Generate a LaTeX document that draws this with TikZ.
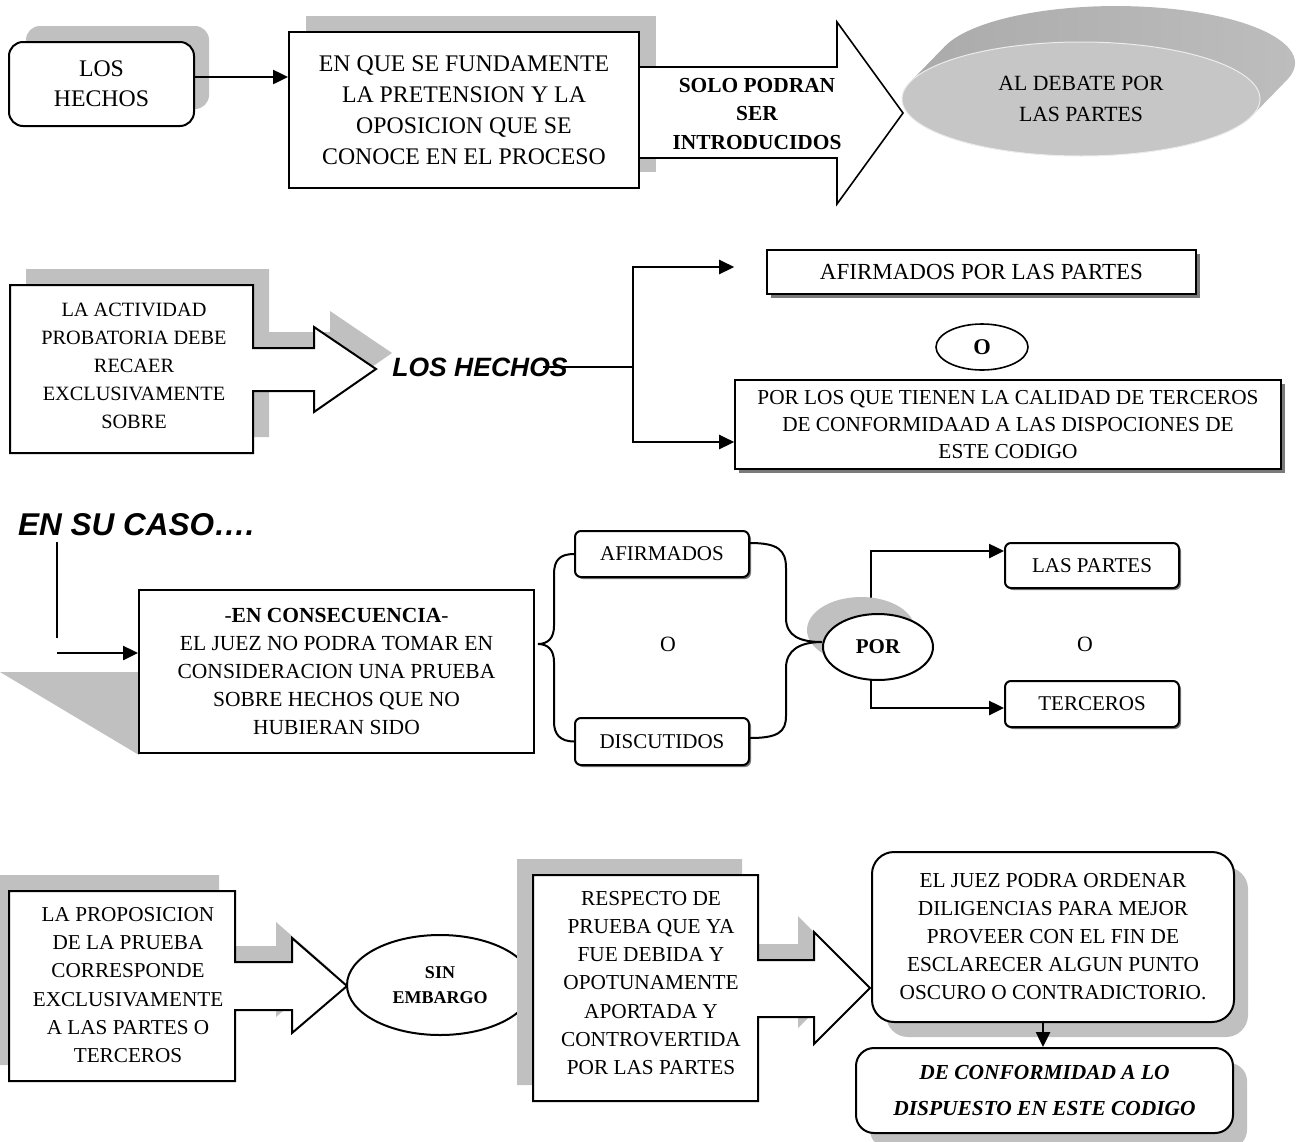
\documentclass[tikz,border=0pt]{standalone}
\usepackage{fontspec}
\setmainfont{Liberation Serif}
\setsansfont{Liberation Sans}
\usetikzlibrary{arrows.meta,shapes.geometric,calc}
\pgfdeclarelayer{behind}
\pgfsetlayers{behind,main}

\definecolor{softshadow}{HTML}{C0C0C0}
\definecolor{hardshadow}{HTML}{7A7A7A}
\definecolor{discfront}{HTML}{C6C6C6}
\definecolor{disctop}{HTML}{A9A9A9}
\definecolor{discmid}{HTML}{A2A2A2}
\definecolor{discside}{HTML}{BEBEBE}

\newcommand\txtsize[2]{\fontsize{#1}{#2}\selectfont}

% outlines of the box-with-arrow shapes
\newcommand\calloutA{(10,285) -- (253,285) -- (253,348) -- (314,348) -- (314,327) -- (376,369) -- (314,412) -- (314,391) -- (253,391) -- (253,453) -- (10,453) -- cycle}
\newcommand\calloutB{(9,891) -- (235,891) -- (235,962) -- (292,962) -- (292,938) -- (347,986) -- (292,1033) -- (292,1010) -- (235,1010) -- (235,1081) -- (9,1081) -- cycle}
\newcommand\calloutC{(533,875) -- (758,875) -- (758,960) -- (814,960) -- (814,932) -- (870,988) -- (814,1044) -- (814,1017) -- (758,1017) -- (758,1101) -- (533,1101) -- cycle}

\begin{document}
\begin{tikzpicture}[x=1pt,y=-1pt,
  box/.style={draw, line width=2pt, fill=white, inner sep=0pt, align=center},
  rbox/.style={box, rounded corners=#1},
  rbox/.default=6pt,
  thinbox/.style={box, line width=1.6pt},
  oval/.style={ellipse, draw, fill=white, line width=2pt, inner sep=0pt, align=center},
  arr/.style={line width=2.5pt, -{Triangle[length=15pt,width=14pt]}},
  outline/.style={line width=2pt, fill=white, line join=miter},
  brace/.style={line width=2pt},
  serifbody/.style={align=center, inner sep=0pt},
  sansbi/.style={font=\sffamily\bfseries\itshape, inner sep=0pt}
]
\useasboundingbox (0,0) rectangle (1298,1141);

% ---------- first row ----------
\fill[softshadow, rounded corners=14pt] (26,26) rectangle (209,109);
\node[rbox=14pt, minimum width=185pt, minimum height=84pt, font=\txtsize{23.8}{30}] (hechos) at (101.5,84) {LOS\\HECHOS};

\fill[softshadow] (306,16) rectangle (656,172);
\draw[line width=1.6pt, fill=white] (639,67) -- (837,67) -- (837,22) -- (903,113) -- (837,204) -- (837,158) -- (639,158);
\node[serifbody, font=\bfseries\txtsize{21.4}{28.5}] (solo) at (757,114) {SOLO PODRAN\\SER\\INTRODUCIDOS};
\node[box, minimum width=350pt, minimum height=156pt, font=\txtsize{23.8}{31}] (fund) at (464,110) {EN QUE SE FUNDAMENTE\\LA PRETENSION Y LA\\OPOSICION QUE SE\\CONOCE EN EL PROCESO};

\draw[arr] ([yshift=7pt]hechos.east) -- ([yshift=7pt]hechos.east -| fund.west);

% raised disc
\shade[left color=disctop, middle color=discmid, right color=discside]
  (910,82.2) -- (945,46.2) arc[start angle=197.2, end angle=377.2, x radius=179, y radius=57]
  -- (1252,115.8) arc[start angle=17.2, end angle=197.2, x radius=179, y radius=57] -- cycle;
\node[ellipse, fill=discfront, draw=white!85!gray, line width=1pt, minimum width=358pt, minimum height=114pt, inner sep=0pt, align=center, font=\txtsize{21.7}{31}] (debate) at (1081,99) {AL DEBATE POR\\LAS PARTES};

% ---------- second row ----------
\fill[softshadow, shift={(16,-16)}] \calloutA;
\draw[outline] \calloutA;
\node[serifbody, font=\txtsize{20.3}{28}] (activ) at (134,366) {LA ACTIVIDAD\\PROBATORIA DEBE\\RECAER\\EXCLUSIVAMENTE\\SOBRE};

\node[sansbi, font=\sffamily\bfseries\itshape\txtsize{26.5}{30}] (hechos2) at (480,367) {LOS HECHOS};

\fill[hardshadow] (771,254) rectangle (1200,298);
\node[thinbox, minimum width=429pt, minimum height=44pt, font=\txtsize{23}{28}] (afpartes) at (981.5,272) {AFIRMADOS POR LAS PARTES};

\node[oval, line width=1.6pt, minimum width=92pt, minimum height=46pt, font=\bfseries\txtsize{22.5}{26}] (o1) at (982,347) {O};

\fill[hardshadow] (739,384) rectangle (1285,473);
\node[thinbox, minimum width=546pt, minimum height=89pt, font=\txtsize{21.3}{27}] (quienes) at (1008,424.5) {POR LOS QUE TIENEN LA CALIDAD DE TERCEROS\\DE CONFORMIDAAD A LAS DISPOCIONES DE\\ESTE CODIGO};

\coordinate (fork) at (633,367);
\coordinate (forkTop) at (633,267);
\coordinate (forkBot) at (633,442);
\draw[line width=2.5pt] ([xshift=-25pt]hechos2.east) -- (fork);
\draw[arr] (fork) -- (forkTop) -- (forkTop -| quienes.west);
\draw[arr] (fork) -- (forkBot) -- (forkBot -| quienes.west);

% ---------- third row ----------
\node[sansbi, font=\sffamily\bfseries\itshape\txtsize{31.5}{34}, anchor=base west] (encaso) at (18,535) {EN SU CASO….};
\coordinate (dropTop) at (57,542);
\coordinate (dropBot) at (57,638);
\coordinate (feed) at (57,653);
\draw[line width=1.8pt] (dropTop) -- (dropBot);

\fill[softshadow] (0,672) -- (139,672) -- (139,755) -- cycle;
\node[box, minimum width=395pt, minimum height=163pt, font=\txtsize{21.5}{28}] (consec) at (336.5,671.5) {-\textbf{EN CONSECUENCIA}-\\EL JUEZ NO PODRA TOMAR EN\\CONSIDERACION UNA PRUEBA\\SOBRE HECHOS QUE NO\\HUBIERAN SIDO};
\draw[arr] (feed) -- (feed -| consec.west);

\fill[hardshadow, rounded corners=6pt] (577,533) rectangle (751,579);
\node[rbox, minimum width=174pt, minimum height=46pt, font=\txtsize{21}{26}] (afirm) at (662,554) {AFIRMADOS};
\fill[hardshadow, rounded corners=6pt] (577,720) rectangle (751,767);
\node[rbox, minimum width=174pt, minimum height=47pt, font=\txtsize{21}{26}] (discut) at (662,741.5) {DISCUTIDOS};
\node[serifbody, font=\txtsize{21.8}{26}] (o2) at (668,644) {O};

\fill[softshadow] (861,630) ellipse[x radius=54, y radius=33];
\node[oval, minimum width=110pt, minimum height=66pt, font=\bfseries\txtsize{21}{26}] (por) at (878,647) {POR};

% braces
\draw[brace] (afirm.west) .. controls (560,554) and (554,560) .. (554,574) -- (554,626)
  .. controls (554,638) and (548,644) .. (538,644)
  .. controls (548,644) and (554,650) .. (554,662) -- (554,722)
  .. controls (554,734) and (560,741.5) .. (discut.west);
\draw[brace] ([yshift=11pt]afirm.east) .. controls (778,543) and (786,550) .. (786,568) -- (786,618)
  .. controls (786,636) and (800,642) .. ([yshift=5pt]por.west)
  .. controls (800,642) and (786,650) .. (786,668) -- (786,716)
  .. controls (786,732) and (778,738) .. ([yshift=3.5pt]discut.east);

\fill[hardshadow, rounded corners=6pt] (1007,545) rectangle (1181,590);
\node[rbox, minimum width=174pt, minimum height=45pt, font=\txtsize{21}{26}] (lp) at (1092,565.5) {LAS PARTES};
\fill[hardshadow, rounded corners=6pt] (1007,683) rectangle (1181,729);
\node[rbox, minimum width=174pt, minimum height=46pt, font=\txtsize{21}{26}] (terc) at (1092,704) {TERCEROS};
\node[serifbody, font=\txtsize{21.8}{26}] (o3) at (1085,644) {O};

\begin{pgfonlayer}{behind}
\draw[arr] ([xshift=-7pt]por.center) |- ([yshift=14.5pt]lp.west);
\draw[arr] ([xshift=-7pt]por.center) |- ([yshift=-4pt]terc.west);
\end{pgfonlayer}

% ---------- fourth row ----------
\fill[softshadow, shift={(-16,-16)}] \calloutB;
\draw[outline] \calloutB;
\node[serifbody, font=\txtsize{21.2}{28.2}] (propos) at (128,985) {LA PROPOSICION\\DE LA PRUEBA\\CORRESPONDE\\EXCLUSIVAMENTE\\A LAS PARTES O\\TERCEROS};

\node[oval, minimum width=186pt, minimum height=100pt, font=\bfseries\txtsize{18}{25}] (sin) at (440,985) {SIN\\EMBARGO};

\fill[softshadow, shift={(-16,-16)}] \calloutC;
\draw[outline] \calloutC;
\node[serifbody, font=\txtsize{21.3}{28.3}] (respecto) at (651,983) {RESPECTO DE\\PRUEBA QUE YA\\FUE DEBIDA Y\\OPOTUNAMENTE\\APORTADA Y\\CONTROVERTIDA\\POR LAS PARTES};

\fill[softshadow, rounded corners=22pt] (886,867) rectangle (1248,1037);
\node[rbox=22pt, minimum width=362pt, minimum height=170pt, font=\txtsize{21.3}{28}] (juez) at (1053,937) {EL JUEZ PODRA ORDENAR\\DILIGENCIAS PARA MEJOR\\PROVEER CON EL FIN DE\\ESCLARECER ALGUN PUNTO\\OSCURO O CONTRADICTORIO.};

\fill[softshadow, rounded corners=18pt] (870,1063) rectangle (1247,1148);
\node[rbox=18pt, minimum width=377pt, minimum height=85pt, font=\bfseries\itshape\txtsize{21.4}{36}] (conf) at (1044.5,1090.5) {DE CONFORMIDAD A LO\\DISPUESTO EN ESTE CODIGO};

\draw[arr] ([xshift=-10pt]juez.south) -- ([xshift=-10pt]juez.south |- conf.north);
\end{tikzpicture}
\end{document}
